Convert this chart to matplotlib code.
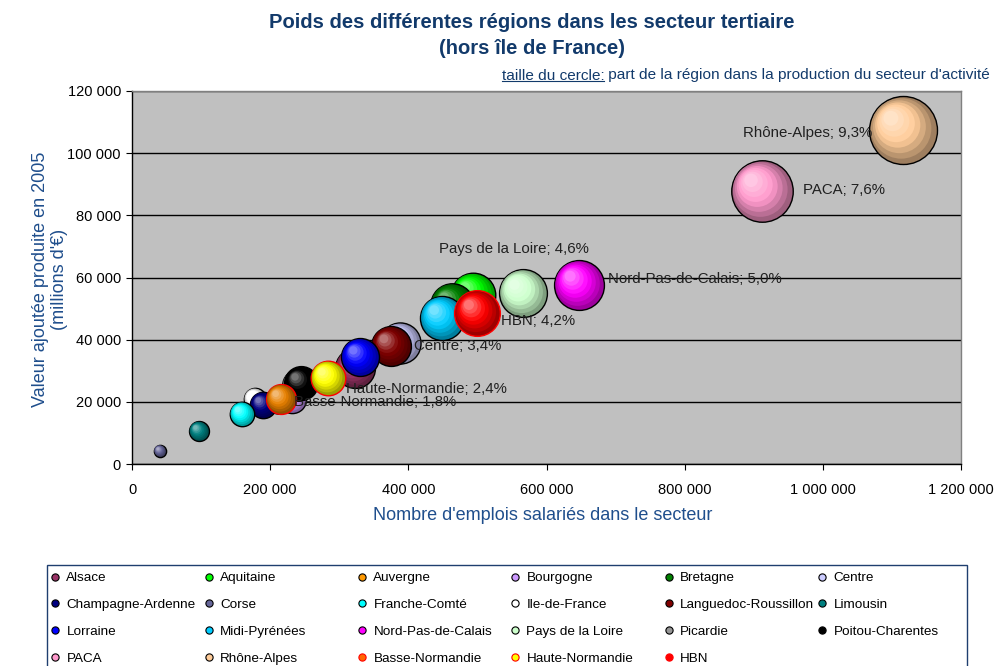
import matplotlib
matplotlib.use("Agg")
import matplotlib.pyplot as plt
import numpy as np
from matplotlib.transforms import offset_copy
from matplotlib.lines import Line2D
from matplotlib.patches import Rectangle
from matplotlib.ticker import FuncFormatter
import matplotlib.colors as mcolors

plt.rcParams['font.family'] = ['Liberation Sans', 'DejaVu Sans']

# ---- data ----
regions = ["Alsace", "Aquitaine", "Auvergne", "Bourgogne", "Bretagne", "Centre",
           "Champagne-Ardenne", "Corse", "Franche-Comté", "Ile-de-France",
           "Languedoc-Roussillon", "Limousin", "Lorraine", "Midi-Pyrénées",
           "Nord-Pas-de-Calais", "Pays de la Loire", "Picardie", "Poitou-Charentes",
           "PACA", "Rhône-Alpes", "Basse-Normandie", "Haute-Normandie", "HBN"]
emplois = [322700, 493500, 212700, 231500, 463100, 387800,
           189600, 40500, 159200, 178000,
           374800, 97000, 330000, 448600,
           646900, 565800, 240200, 244600,
           911700, 1115800, 215600, 283700, 499300]
valeur = [30900, 54400, 20300, 20900, 51200, 38900,
          19000, 4200, 16100, 20900,
          38000, 10600, 34400, 47000,
          57600, 55000, 25400, 26100,
          87800, 107400, 20900, 27700, 48600]
part = [3.2, 4.0, 1.3, 1.6, 3.8, 3.4,
        1.4, 0.3, 1.2, 1.0,
        3.2, 0.8, 2.9, 3.9,
        5.0, 4.6, 2.0, 2.3,
        7.6, 9.3, 1.8, 2.4, 4.2]
labelled = {"Rhône-Alpes": "9,3%", "PACA": "7,6%", "Pays de la Loire": "4,6%",
            "Nord-Pas-de-Calais": "5,0%", "HBN": "4,2%", "Centre": "3,4%",
            "Haute-Normandie": "2,4%", "Basse-Normandie": "1,8%"}
xticks = [0, 200000, 400000, 600000, 800000, 1000000, 1200000]
yticks = [0, 20000, 40000, 60000, 80000, 100000, 120000]

# ---- styles ----
colors = ["#993366", "#00FF00", "#FF9900", "#CC99FF", "#008000", "#CCCCFF",
          "#000080", "#666699", "#00FFFF", "#FFFFFF",
          "#800000", "#008080", "#0000FF", "#00CCFF",
          "#FF00FF", "#CCFFCC", "#969696", "#000000",
          "#FF99CC", "#FFCC99", "#E88000", "#FFFF00", "#FF0000"]
legend_colors = list(colors)
legend_colors[20] = "#FF6600"
edges = ["black"] * 20 + ["#FF0000", "#FF0000", "#FF0000"]
label_off = {"Rhône-Alpes": (-22, -2, 'right'), "PACA": (29.5, 0.7, 'left'),
             "Pays de la Loire": (-6.5, 31.7, 'center'),
             "Nord-Pas-de-Calais": (21, 4.3, 'left'), "HBN": (17.3, -5.8, 'left'),
             "Centre": (10, -2.2, 'left'), "Haute-Normandie": (13, -8, 'left'),
             "Basse-Normandie": (9.4, -2.2, 'left')}
navy = "#123A6B"

W, H = 997, 666
fig = plt.figure(figsize=(W / 100, H / 100), dpi=100)
fig.patch.set_facecolor("white")
ax = fig.add_axes([132 / W, 1 - 464 / H, (961 - 132) / W, (464 - 91) / H])
ax.set_facecolor("#C0C0C0")
ax.set_xlim(0, 1200000)
ax.set_ylim(0, 120000)
ax.set_xticks(xticks)
ax.set_yticks(yticks)
fmt = FuncFormatter(lambda v, p: "{:,}".format(int(v)).replace(",", " "))
ax.xaxis.set_major_formatter(fmt)
ax.yaxis.set_major_formatter(fmt)
ax.yaxis.grid(True, color="black", lw=1.0)
ax.set_axisbelow(True)
ax.tick_params(axis='both', direction='out', length=4, width=0.8, labelsize=10.5,
               colors='black')
ax.tick_params(axis='x', pad=9.5)
ax.tick_params(axis='y', pad=4)
for s in ["top", "right"]:
    ax.spines[s].set_color("#808080")
    ax.spines[s].set_linewidth(1.0)
for s in ["left", "bottom"]:
    ax.spines[s].set_color("black")
    ax.spines[s].set_linewidth(1.0)


def shade(base, t):
    b = np.array(mcolors.to_rgb(base))
    rim = b * 0.62
    hi = b + (1 - b) * 0.45
    if t < 0.5:
        c = rim + (b - rim) * (t / 0.5)
    else:
        c = b + (hi - b) * ((t - 0.5) / 0.5)
    return tuple(np.clip(c, 0, 1))


order = [9] + [i for i in range(len(regions)) if i != 9]
N = 8
for z, i in enumerate(order):
    r_px = 34 * np.sqrt(part[i] / 9.3)
    r_pt = r_px * 0.72
    for j in range(N):
        k = 1 - 0.78 * j / (N - 1)
        off = (1 - k) * r_pt * 0.45
        tr = offset_copy(ax.transData, fig=fig, x=-off, y=off, units='points')
        t = j / (N - 1)
        ax.scatter([emplois[i]], [valeur[i]], s=(2 * r_pt * k) ** 2,
                   color=shade(colors[i], t),
                   edgecolors=edges[i] if j == 0 else 'none',
                   linewidths=1.0 if j == 0 else 0,
                   transform=tr, zorder=3 + z * 0.01 + j * 0.0001, clip_on=False)

for i, name in enumerate(regions):
    if name in labelled:
        dx, dy, ha = label_off[name]
        ax.annotate(f"{name}; {labelled[name]}", (emplois[i], valeur[i]),
                    xytext=(dx, dy), textcoords='offset points', ha=ha,
                    va='center', fontsize=10.8, color="#202020", zorder=10)

# titles
fig.text(532 / W, 1 - 22 / H, "Poids des différentes régions dans les secteur tertiaire",
         ha='center', va='center', fontsize=14.5, fontweight='bold', color=navy)
fig.text(532 / W, 1 - 48 / H, "(hors île de France)",
         ha='center', va='center', fontsize=14.5, fontweight='bold', color=navy)

sub_fs = 11.1
t2 = fig.text(990 / W, 1 - 75.5 / H,
              " part de la région dans la production du secteur d'activité",
              ha='right', va='center', fontsize=sub_fs, color=navy)
fig.canvas.draw()
r = fig.canvas.get_renderer()
bb2 = t2.get_window_extent(r)
t1 = fig.text(bb2.x0 / W, 1 - 75.5 / H, "taille du cercle:", ha='right', va='center',
              fontsize=sub_fs, color=navy)
fig.canvas.draw()
bb1 = t1.get_window_extent(r)
fig.add_artist(Line2D([bb1.x0 / W, bb1.x1 / W], [(bb1.y0 + 2) / H, (bb1.y0 + 2) / H],
                      transform=fig.transFigure, color=navy, lw=0.8))

fig.text(543 / W, 1 - 515 / H, "Nombre d'emplois salariés dans le secteur",
         ha='center', va='center', fontsize=13, color="#1F4E8C")
fig.text(50 / W, 1 - 279 / H, "Valeur ajoutée produite en 2005\n(millions d'€)",
         ha='center', va='center', fontsize=13, color="#1F4E8C", rotation=90,
         multialignment='center', linespacing=1.2)

# legend frame
fig.add_artist(Rectangle((47 / W, -0.05), (967 - 47) / W, 1 - 565 / H + 0.05,
                         transform=fig.transFigure, facecolor='white',
                         edgecolor="#1F3F6F", lw=1.0, zorder=0))
col_x = [55, 208.5, 362, 515, 668.5, 822]
nrows = 4
fs = 9.7
hl = 0.6
for c in range(6):
    idxs = [rr * 6 + c for rr in range(nrows) if rr * 6 + c < len(regions)]
    handles = [Line2D([], [], ls='none', marker='o', markersize=5.2,
                      markerfacecolor=legend_colors[i], markeredgecolor=edges[i],
                      markeredgewidth=0.8) for i in idxs]
    labels = [regions[i] for i in idxs]
    anchor_x = (col_x[c] - hl * fs / 2 / 0.72) / W
    fig.legend(handles, labels, loc='upper left',
               bbox_to_anchor=(anchor_x, 1 - 572 / H), bbox_transform=fig.transFigure,
               frameon=False, fontsize=fs, handlelength=hl, handletextpad=0.55,
               borderpad=0, borderaxespad=0, labelspacing=1.06)

fig.savefig("out.png", dpi=100, facecolor="white")
